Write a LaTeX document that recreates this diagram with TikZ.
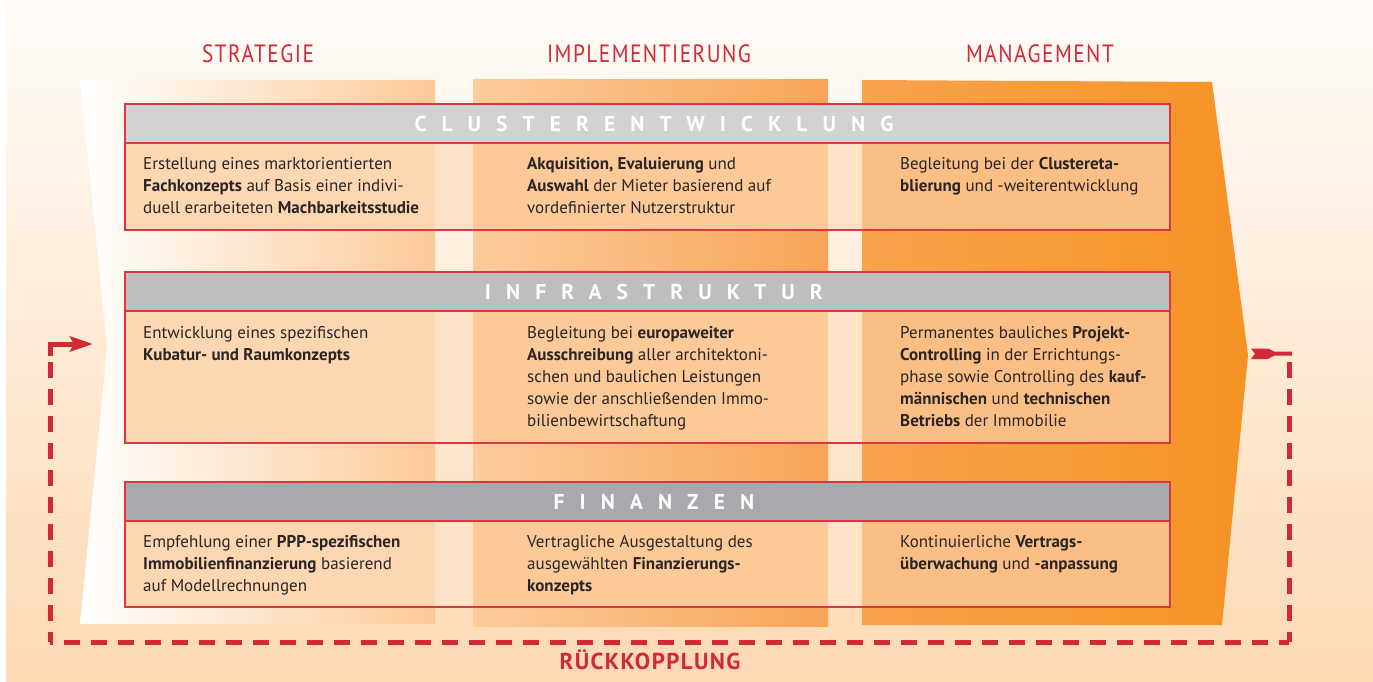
\documentclass[tikz,border=0pt]{standalone}
\usepackage{fontspec}
\setmainfont{PT Sans}
\newfontfamily\barfont[LetterSpace=70]{PT Sans}
\newfontfamily\headfont[LetterSpace=6,FakeStretch=0.85]{PT Sans}
\newfontfamily\fbfont[LetterSpace=6]{PT Sans}
\usetikzlibrary{arrows.meta}
\definecolor{bgtop}{HTML}{FFFCF9}
\definecolor{bgbot}{HTML}{FDD9B3}
\definecolor{redc}{HTML}{D12A36}
\definecolor{boxred}{HTML}{D9383F}
\definecolor{txt}{HTML}{2A2526}
\definecolor{grayA}{HTML}{D1D2D4}
\definecolor{grayB}{HTML}{BCBEC0}
\definecolor{grayC}{HTML}{A7A9AC}
\definecolor{bandS}{HTML}{FCCA98}
\definecolor{bandIl}{HTML}{FCCC9C}
\definecolor{bandIr}{HTML}{F8A458}
\definecolor{bandMl}{HTML}{F9AB63}
\definecolor{bandMr}{HTML}{F6901E}
\definecolor{cellS}{HTML}{FDD7B1}
\definecolor{cellG}{HTML}{FDE2C8}
\definecolor{cellI}{HTML}{FCCA99}
\definecolor{cellM}{HTML}{FBBF86}
\pgfdeclarehorizontalshading{mgmtshade}{100bp}{color(0bp)=(bandMl); color(82bp)=(bandMr); color(100bp)=(bandMr)}
\newcommand\cellrow[2]{%
  \fill[cellS] (125,#1) rectangle (435,#2);
  \fill[cellG] (435,#1) rectangle (473,#2);
  \fill[cellI] (473,#1) rectangle (828,#2);
  \fill[cellG] (828,#1) rectangle (862,#2);
  \fill[cellM] (862,#1) rectangle (1170,#2);
  \draw[boxred, line width=1.3pt] (125,#1) rectangle (1170,#2);
}
\begin{document}
\begin{tikzpicture}[x=1pt,y=-1pt,
  colhead/.style={font=\headfont\fontsize{25}{25}\selectfont, text=redc, anchor=base, inner sep=0pt},
  barbox/.style={fill=#1, draw=boxred, line width=1.3pt, minimum width=1045pt, minimum height=39pt, inner sep=0pt, text=white, font=\barfont\bfseries\fontsize{21.5}{21.5}\selectfont},
  celltext/.style={anchor=north west, inner sep=0pt, align=left, text=txt, font=\fontsize{17}{22}\selectfont},
  fb/.style={draw=redc, line width=5pt},
  fbdash/.style={fb, dash pattern=on 16pt off 11pt, dash phase=6pt},
]
\useasboundingbox (0,0) rectangle (1373,682);
\fill[white] (0,0) rectangle (1373,682);
\shade[top color=bgtop, bottom color=bgbot] (6,0) rectangle (1373,682);
% column bands
\shade[left color=white, right color=bandS] (80,80) -- (435,80) -- (435,624) -- (80,624) -- (107,347) -- cycle;
\shade[left color=bandIl, right color=bandIr] (473,80) rectangle (828,626);
\shade[shading=mgmtshade] (862,80) -- (1212,82) -- (1248,355) -- (1222,625) -- (862,625) -- cycle;
% column headings
\node[colhead] (colS) at (258,63) {STRATEGIE};
\node[colhead] (colI) at (649,63) {IMPLEMENTIERUNG};
\node[colhead] (colM) at (1040,63) {MANAGEMENT};
% sections
\cellrow{143}{230}
\node[barbox=grayA] (barC) at (647.5,123.5) {CLUSTERENTWICKLUNG\kern-0.6em};
\cellrow{311}{443}
\node[barbox=grayB] (barI) at (647.5,291.5) {INFRASTRUKTUR\kern-0.6em};
\cellrow{521}{607}
\node[barbox=grayC] (barF) at (647.5,501.5) {FINANZEN\kern-0.6em};
% texts: Clusterentwicklung
\node[celltext] (tCS) at (143,153.6) {\strut Erstellung eines marktorientierten\\\textbf{Fachkonzepts} auf Basis einer indivi-\\duell erarbeiteten \textbf{Machbarkeitsstudie}};
\node[celltext] (tCI) at (527,153.6) {\strut\textbf{Akquisition, Evaluierung} und\\\textbf{Auswahl} der Mieter basierend auf\\vordefinierter Nutzerstruktur};
\node[celltext] (tCM) at (900,153.6) {\strut Begleitung bei der \textbf{Clustereta-}\\\textbf{blierung} und -weiterentwicklung};
% Infrastruktur
\node[celltext] (tIS) at (143,322.6) {\strut Entwicklung eines spezifischen\\\textbf{Kubatur- und Raumkonzepts}};
\node[celltext] (tII) at (527,322.6) {\strut Begleitung bei \textbf{europaweiter}\\\textbf{Ausschreibung} aller architektoni-\\schen und baulichen Leistungen\\sowie der anschließenden Immo-\\bilienbewirtschaftung};
\node[celltext] (tIM) at (900,322.6) {\strut Permanentes bauliches \textbf{Projekt-}\\\textbf{Controlling} in der Errichtungs-\\phase sowie Controlling des \textbf{kauf-}\\\textbf{männischen} und \textbf{technischen}\\\textbf{Betriebs} der Immobilie};
% Finanzen
\node[celltext] (tFS) at (143,531.6) {\strut Empfehlung einer \textbf{PPP-spezifischen}\\\textbf{Immobilienfinanzierung} basierend\\auf Modellrechnungen};
\node[celltext] (tFI) at (527,531.6) {\strut Vertragliche Ausgestaltung des\\ausgewählten \textbf{Finanzierungs-}\\\textbf{konzepts}};
\node[celltext] (tFM) at (900,531.6) {\strut Kontinuierliche \textbf{Vertrags-}\\\textbf{überwachung} und \textbf{-anpassung}};
% feedback loop
\coordinate (fbTail) at (1255,353.7);
\coordinate (fbA) at (1289,358);
\coordinate (fbB) at (1289,642);
\coordinate (fbC) at (50,642);
\coordinate (fbD) at (50,344);
\coordinate (fbD2) at (50,356);
\coordinate (fbE) at (93,344);
\fill[redc] (fbTail) -- (1251,348.5) -- (1268,348.5) -- (1274,351.5) -- (1292,351.5) -- (1292,355.7) -- (1274,355.7) -- (1268,359) -- (1251,359) -- cycle;
\draw[fbdash] (fbB) -- (fbA);
\draw[fbdash] (fbB) -- (fbC);
\draw[fbdash] (fbC) -- (fbD2);
\draw[fb, -{Stealth[length=23pt,width=15pt,inset=4pt]}] (fbD2) -- (fbD) -- (fbE);
\node[font=\fbfont\bfseries\fontsize{23}{23}\selectfont, text=redc, anchor=base, inner sep=0pt] (fbLabel) at (650,669) {RÜCKKOPPLUNG};
\end{tikzpicture}
\end{document}
